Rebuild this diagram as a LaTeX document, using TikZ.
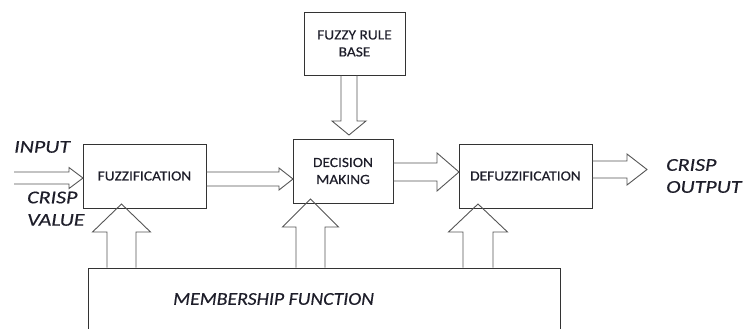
\documentclass[tikz,border=0pt]{standalone}
\usepackage{fontspec}
\setmainfont{Carlito}
\newfontfamily\boxfont[FakeStretch=1.1,FakeBold=0.35]{Carlito}
\newfontfamily\labfont[FakeStretch=1.22,FakeBold=0.4]{Carlito}
\newfontfamily\memfont[FakeStretch=1.1,FakeBold=0.4]{Carlito}
\usetikzlibrary{calc}
\definecolor{linegray}{HTML}{333333}
\definecolor{arrgray}{HTML}{555555}
\definecolor{txt}{HTML}{1E1E2A}
\tikzset{
  blockbox/.style={draw=linegray, line width=0.9pt, inner sep=0pt, text=txt,
    font=\boxfont\fontsize{14}{16}\selectfont, align=center},
  lab/.style={inner sep=0pt, text=txt, font=\labfont\itshape\fontsize{18}{20}\selectfont, anchor=west},
  memlab/.style={lab, font=\memfont\itshape\fontsize{18}{20}\selectfont},
  blk/.style={draw=arrgray, line width=0.9pt, line join=miter}
}
% horizontal block arrow: #1 start point, #2 tip point, #3 shaft half, #4 head half, #5 head length
\newcommand\harrow[5]{%
  \draw[blk] let \p1=#1, \p2=#2 in
    (\x1,\y2+#3) -- (\x2-#5,\y2+#3) -- (\x2-#5,\y2+#4) -- (\x2,\y2)
    -- (\x2-#5,\y2-#4) -- (\x2-#5,\y2-#3) -- (\x1,\y2-#3);}
% vertical block arrow: head points toward tip
\newcommand\varrow[5]{%
  \draw[blk] let \p1=#1, \p2=#2, \n1={sign(\y2-\y1)} in
    (\x2-#3,\y1) -- (\x2-#3,\y2-\n1*#5) -- (\x2-#4,\y2-\n1*#5) -- (\x2,\y2)
    -- (\x2+#4,\y2-\n1*#5) -- (\x2+#3,\y2-\n1*#5) -- (\x2+#3,\y1);}
\begin{document}
\begin{tikzpicture}[x=1pt,y=-1pt]
\useasboundingbox (0,0) rectangle (744,329);
% boxes
\node[blockbox, minimum width=123pt, minimum height=64pt] (fuzz) at (144.5,176) {FUZZIFICATION};
\node[blockbox, minimum width=100pt, minimum height=64pt] (dec) at (343,171) {DECISION\\[1pt]MAKING};
\node[blockbox, minimum width=101pt, minimum height=63pt] (rule) at (354.5,43.5) {FUZZY RULE\\[1pt]BASE};
\node[blockbox, minimum width=133pt, minimum height=64pt] (defuzz) at (525.5,176) {DEFUZZIFICATION};
\node[blockbox, minimum width=472pt, minimum height=80pt] (mem) at (324,308) {};
\node[memlab] (memtext) at (173,299) {MEMBERSHIP FUNCTION};
% labels
\node[lab] (input) at (14,147) {INPUT};
\node[lab] (crisp) at (27,197.5) {CRISP};
\node[lab] (value) at (27,220) {VALUE};
\node[lab] (crispo) at (666,165) {CRISP};
\node[lab] (output) at (666,187) {OUTPUT};
% helper coordinates
\coordinate (instart) at (14,178);
\coordinate (intip) at (83,178);
\coordinate (fdtip) at (293,179);
\coordinate (ddtip) at (459,172);
\coordinate (outtip) at (647,169.5);
\coordinate (ruletip) at (349,135);
\coordinate (m1) at (121.5,204);
\coordinate (m2) at (310.5,199);
\coordinate (m3) at (478,204);
% horizontal arrows
\harrow{(instart)}{(intip)}{6pt}{10.5pt}{14pt}
\harrow{(fuzz.east)}{(fdtip)}{7pt}{11pt}{14pt}
\harrow{(dec.east)}{(ddtip)}{9pt}{19pt}{22pt}
\harrow{(defuzz.east)}{(outtip)}{8.5pt}{15.5pt}{20pt}
% vertical arrows
\varrow{(rule.south)}{(ruletip)}{8pt}{17pt}{14pt}
\varrow{(mem.north)}{(m1)}{14.5pt}{29pt}{28pt}
\varrow{(mem.north)}{(m2)}{14.5pt}{28pt}{28pt}
\varrow{(mem.north)}{(m3)}{15pt}{29.5pt}{28pt}
\end{tikzpicture}
\end{document}
